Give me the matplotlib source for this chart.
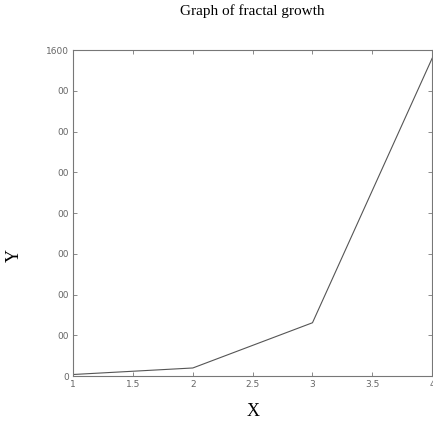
import matplotlib
matplotlib.use("Agg")
import matplotlib.pyplot as plt

x_vals = [1, 2, 3, 4]
y_vals = [8, 40, 262, 1560]
x_ticks = [1, 1.5, 2, 2.5, 3, 3.5, 4]
x_ticklabels = ["1", "1.5", "2", "2.5", "3", "3.5", "4"]
y_ticks = [0, 200, 400, 600, 800, 1000, 1200, 1400, 1600]
# the reference shows clipped labels
y_ticklabels = ["0", "00", "00", "00", "00", "00", "00", "00", "1600"]

fig = plt.figure(figsize=(4.33, 4.25), dpi=100)
ax = fig.add_axes([0.169, 0.115, 0.829, 0.767])

ax.plot(x_vals, y_vals, color="#555555", linewidth=0.8)
ax.set_xlim(1, 4)
ax.set_ylim(0, 1600)

ax.set_xticks(x_ticks)
ax.set_xticklabels(x_ticklabels)
ax.set_yticks(y_ticks)
ax.set_yticklabels(y_ticklabels)
ax.tick_params(direction="in", length=3, width=0.6, colors="#777777",
               labelsize=6.5, labelcolor="#666666", top=True, right=True, pad=3)
for s in ax.spines.values():
    s.set_color("#777777")
    s.set_linewidth(0.8)

ax.set_title("Graph of fractal growth", fontfamily="Liberation Serif", fontsize=11, pad=25)
ax.set_xlabel("X", fontfamily="Liberation Serif", fontsize=13, labelpad=10)
ax.set_ylabel("Y", fontfamily="Liberation Serif", fontsize=13)
ax.yaxis.set_label_coords(-0.14, 0.37)

fig.savefig("out.png", dpi=100)
